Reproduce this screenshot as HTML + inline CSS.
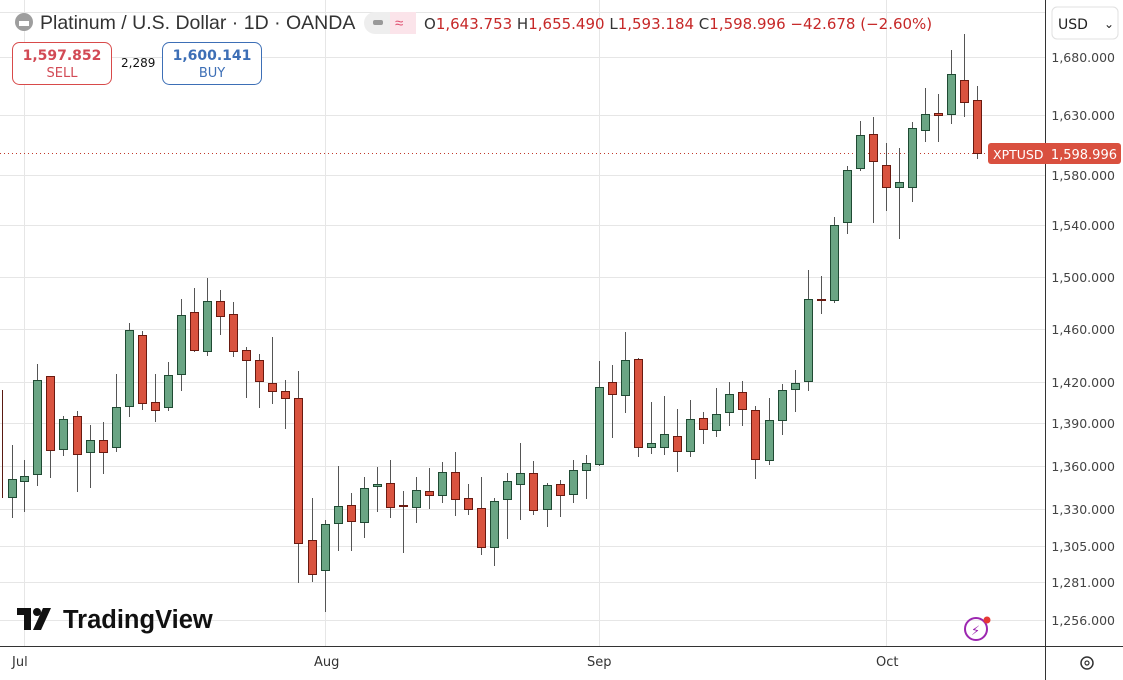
<!DOCTYPE html>
<html><head><meta charset="utf-8"><style>
body{margin:0;background:#fff;width:1123px;height:680px;overflow:hidden;font-family:"Liberation Sans","DejaVu Sans",sans-serif}
svg{position:absolute;left:0;top:0}
.t{font-family:"DejaVu Sans","Liberation Sans",sans-serif}
</style></head><body>
<svg id="s" width="1123" height="680" xmlns="http://www.w3.org/2000/svg">
<rect width="1123" height="680" fill="#fff"/>
<g id="grid" stroke="#e6e6e6" stroke-width="1"></g>
<line x1="0" y1="153.5" x2="1045" y2="153.5" stroke="#c0392b" stroke-dasharray="1,3"/>
<g id="c"></g>
<line x1="1045.5" y1="0" x2="1045.5" y2="680" stroke="#333"/>
<line x1="0" y1="646.5" x2="1123" y2="646.5" stroke="#333"/>
<g id="yl" class="t" font-size="12.5" fill="#444"></g>
<g class="t" font-size="13" fill="#333">
<text x="12" y="666">Jul</text><text x="314" y="666">Aug</text><text x="587" y="666">Sep</text><text x="876" y="666">Oct</text>
</g>
<rect x="1052" y="7" width="66" height="32" rx="5" fill="#fff" stroke="#e0e0e0"/>
<text x="1058" y="29" class="t" font-size="14" fill="#222">USD</text>
<text x="1104" y="28" font-size="12" fill="#222">⌄</text>
<rect x="988" y="143" width="133" height="21" rx="3" fill="#d9503f"/>
<text x="993" y="159" class="t" font-size="12.5" fill="#fff">XPTUSD</text>
<text x="1117" y="159" text-anchor="end" class="t" font-size="13" fill="#fff">1,598.996</text>
<circle cx="1087" cy="663" r="6" fill="none" stroke="#333" stroke-width="1.5"/>
<circle cx="1087" cy="663" r="2" fill="none" stroke="#333" stroke-width="1.2"/>
<circle cx="976" cy="629" r="11" fill="none" stroke="#9c27b0" stroke-width="2"/>
<text x="971" y="635" font-size="13" fill="#9c27b0">⚡</text>
<circle cx="987" cy="620" r="3.5" fill="#e53935"/>
<!-- header -->
<circle cx="24" cy="22" r="9" fill="#9e9e9e"/>
<rect x="19" y="21" width="10" height="5" fill="#fff"/>
<text x="40" y="29" font-size="19.5" fill="#333">Platinum / U.S. Dollar · 1D · OANDA</text>
<rect x="364" y="12" width="52" height="22" rx="11" fill="#eee"/>
<rect x="390" y="12" width="26" height="22" rx="0" fill="#fbe4ea"/>
<rect x="373" y="20" width="10" height="5" rx="2" fill="#999"/>
<text x="395" y="28" font-size="15" fill="#e05070">≈</text>
<text x="424" y="29" class="t" font-size="15" fill="#333">O<tspan fill="#c62828">1,643.753</tspan> H<tspan fill="#c62828">1,655.490</tspan> L<tspan fill="#c62828">1,593.184</tspan> C<tspan fill="#c62828">1,598.996</tspan> <tspan fill="#c62828">−42.678 (−2.60%)</tspan></text>
<rect x="12.5" y="42.5" width="99" height="42" rx="7" fill="#fff" stroke="#d84a4a"/>
<text x="62" y="60" text-anchor="middle" class="t" font-size="14" font-weight="bold" fill="#d24a55">1,597.852</text>
<text x="62" y="77" text-anchor="middle" class="t" font-size="13" fill="#d24a55">SELL</text>
<text x="121" y="67" class="t" font-size="12" fill="#111">2,289</text>
<rect x="162.5" y="42.5" width="99" height="42" rx="7" fill="#fff" stroke="#3d6fb6"/>
<text x="212" y="60" text-anchor="middle" class="t" font-size="14" font-weight="bold" fill="#3d6fb6">1,600.141</text>
<text x="212" y="77" text-anchor="middle" class="t" font-size="13" fill="#3d6fb6">BUY</text>
<!-- logo -->
<path d="M17 608h14v22h-7v-15h-7z" fill="#111"/><circle cx="37" cy="612" r="4" fill="#111"/><path d="M43 608h8l-10 22h-8z" fill="#111"/>
<text x="63" y="628" font-size="25.5" font-weight="bold" fill="#111">TradingView</text>
</svg>
<script>
var g=document.getElementById('grid'),yl=document.getElementById('yl'),ns='http://www.w3.org/2000/svg';
function el(p,t,a){var e=document.createElementNS(ns,t);for(var k in a)e.setAttribute(k,a[k]);p.appendChild(e);return e;}
[[57,'1,680.000'],[115,'1,630.000'],[175,'1,580.000'],[225,'1,540.000'],[277,'1,500.000'],[329,'1,460.000'],[382,'1,420.000'],[423,'1,390.000'],[466,'1,360.000'],[509,'1,330.000'],[546,'1,305.000'],[582,'1,281.000'],[620,'1,256.000']].forEach(function(a){
el(g,'line',{x1:0,x2:1045,y1:a[0]+.5,y2:a[0]+.5});var t=el(yl,'text',{x:1115,y:a[0]+5,'text-anchor':'end'});t.textContent=a[1];});
el(g,'line',{x1:0,x2:1045,y1:12.5,y2:12.5});
[24,325,599,886].forEach(function(x){el(g,'line',{x1:x+.5,x2:x+.5,y1:0,y2:646});});
var d=[[11.7,497,479,445,518],[24.3,481,476,460,512],[37.3,474,380,364,486],[50.3,376,450,376,478],[63.3,449,419,416,456],[77.3,416,454,411,492],[90.3,452,440,425,488],[103.3,440,452,422,474],[116.3,447,407,374,452],[129.3,406,330,323,417],[142.3,335,403,331,410],[155.3,402,410,374,422],[168.3,407,375,362,411],[181.3,374,315,299,391],[194.3,312,350,288,352],[207.3,351,301,278,356],[220.3,301,316,290,335],[233.3,314,351,302,357],[246.3,350,360,347,398],[259.3,360,381,354,408],[272.3,383,391,337,404],[285.3,391,398,380,429],[298.3,398,543,371,583],[312.3,540,574,498,582],[325.3,570,524,520,612],[338.3,523,506,466,551],[351.3,505,521,493,551],[364.3,522,488,477,538],[377.3,486,484,467,512],[390.3,483,507,460,518],[403.3,505,506,491,553],[416.3,507,490,477,523],[429.3,491,495,468,509],[442.3,495,472,462,503],[455.3,472,499,452,516],[468.3,498,509,484,515],[481.3,508,547,477,555],[494.3,547,501,498,566],[507.3,499,481,473,539],[520.3,484,473,443,520],[533.3,473,510,461,515],[547.3,509,485,483,527],[560.3,484,495,480,517],[573.3,494,470,460,503],[586.3,470,463,455,499],[599.3,464,387,361,466],[612.3,382,394,365,438],[625.3,395,360,332,413],[638.3,359,447,358,457],[651.3,447,443,402,454],[664.3,447,434,396,455],[677.3,436,451,409,472],[690.3,451,419,400,457],[703.3,418,429,412,444],[716.3,430,414,388,437],[729.3,412,394,382,426],[742.3,392,409,381,426],[755.3,410,459,406,479],[769.3,460,420,398,465],[782.3,420,390,384,435],[795.3,389,383,370,412],[808.3,381,299,270,391],[821.3,299,300,276,314],[834.3,300,225,217,303],[847.3,222,170,166,234],[860.3,168,135,121,171],[873.3,134,161,117,223],[886.3,165,187,143,211],[899.3,187,182,148,239],[912.3,187,128,122,202],[925.3,130,114,88,142],[938.3,113,115,94,142],[951.3,114,74,50,124],[964.3,80,102,34,117],[977.3,100,153,86,159]];
var c=document.getElementById('c');
el(c,'line',{x1:2.5,x2:2.5,y1:390,y2:498,stroke:'#5a1a12'});
d.forEach(function(k){var x=Math.round(k[0]),up=k[2]<k[1],top=Math.min(k[1],k[2]),h=Math.max(1,Math.abs(k[1]-k[2]));
el(c,'line',{x1:x+.5,x2:x+.5,y1:k[3],y2:k[4],stroke:'#555'});
el(c,'rect',{x:x-3.5,y:top+.5,width:8,height:h,fill:up?'#6aa584':'#d9533f',stroke:up?'#1f4a33':'#6a1a10','stroke-width':1});});
</script>
</body></html>
